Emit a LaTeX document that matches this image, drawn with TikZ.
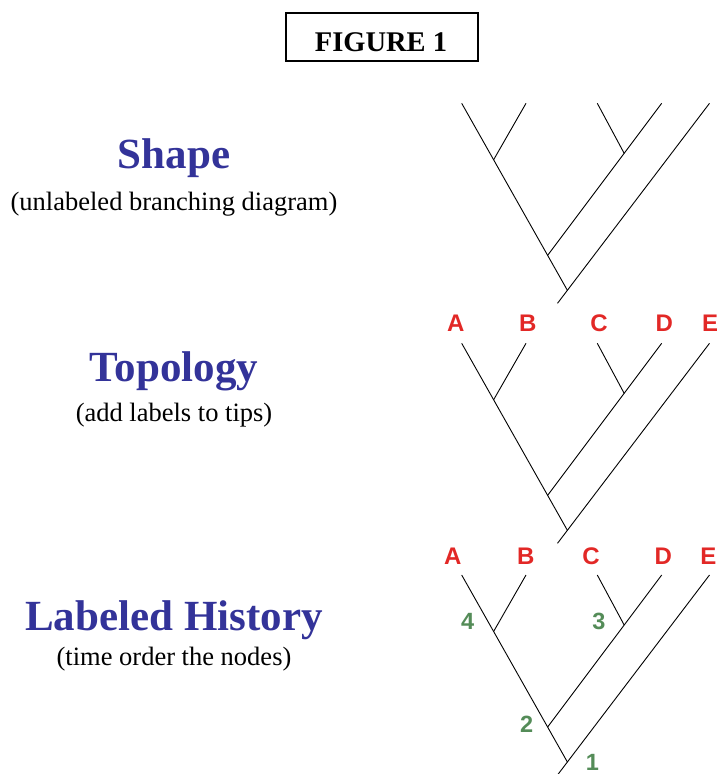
\documentclass[tikz,border=0pt]{standalone}
\usepackage{fontspec}
\setmainfont{Liberation Serif}
\newfontfamily\tipfont{Liberation Sans}
\usetikzlibrary{calc}
\definecolor{titleblue}{RGB}{51,51,153}
\definecolor{tipred}{RGB}{226,40,38}
\definecolor{nodegreen}{RGB}{84,140,88}

\begin{document}
\begin{tikzpicture}[x=1pt,y=-1pt,
  branch/.style={line width=0.9pt, black},
  heading/.style={anchor=base, inner sep=0pt, text=titleblue,
    font=\bfseries\fontsize{43}{50}\selectfont},
  caption/.style={anchor=base, inner sep=0pt, text=black,
    font=\fontsize{26.5}{32}\selectfont},
  tiplabel/.style={inner sep=0pt, text=tipred,
    font=\tipfont\bfseries\fontsize{24}{28}\selectfont},
  ordlabel/.style={inner sep=0pt, text=nodegreen,
    font=\tipfont\bfseries\fontsize{23.5}{28}\selectfont},
  titlebox/.style={draw, line width=1.5pt, inner sep=0pt,
    minimum width=192pt, minimum height=48pt},
  titletext/.style={anchor=base, inner sep=0pt,
    font=\bfseries\fontsize{28.5}{32}\selectfont}]
\useasboundingbox (0,0) rectangle (717,774);

% title in its frame
\node[titlebox] (titleframe) at (382,37) {};
\node[titletext] (title) at (381,51) {FIGURE 1};

% left-hand headings
\node[heading] (shape) at (174,168.5) {Shape};
\node[caption] (shapecap) at (174,210) {(unlabeled branching diagram)};
\node[heading] (topo) at (174,381.7) {Topology};
\node[caption] (topocap) at (174,421.7) {(add labels to tips)};
\node[heading] (hist) at (174,630) {Labeled History};
\node[caption] (histcap) at (174,665) {(time order the nodes)};

% the same five-tip tree, drawn three times
\foreach \t/\ty in {1/103.3, 2/343.3, 3/575} {
  \coordinate (A\t) at (461.7,\ty);
  \coordinate (B\t) at (526,\ty);
  \coordinate (C\t) at (597.3,\ty);
  \coordinate (D\t) at (661.7,\ty);
  \coordinate (E\t) at (709.5,\ty);
  \coordinate (S\t) at (557.5,\ty+200);
  \coordinate (R\t) at ($(E\t)!0.935!(S\t)$);
  \coordinate (AB\t) at ($(A\t)!0.302!(R\t)$);
  \coordinate (ABCD\t) at ($(A\t)!0.813!(R\t)$);
  \coordinate (CD\t) at ($(D\t)!0.329!(ABCD\t)$);
  \draw[branch] (A\t) -- (R\t);
  \draw[branch] (E\t) -- (S\t);
  \draw[branch] (B\t) -- (AB\t);
  \draw[branch] (D\t) -- (ABCD\t);
  \draw[branch] (C\t) -- (CD\t);
}

% tip labels
\node[tiplabel] (la2) at (455.7,323.7) {A};
\node[tiplabel] (lb2) at (527.7,323.7) {B};
\node[tiplabel] (lc2) at (599,323.7) {C};
\node[tiplabel] (ld2) at (664.3,323.7) {D};
\node[tiplabel] (le2) at (710,323.7) {E};
\node[tiplabel] (la3) at (452.7,556.7) {A};
\node[tiplabel] (lb3) at (525.7,556.7) {B};
\node[tiplabel] (lc3) at (591,556.7) {C};
\node[tiplabel] (ld3) at (663.3,556.7) {D};
\node[tiplabel] (le3) at (708.3,556.7) {E};

% order of the internal nodes
\node[ordlabel] (n4) at (467.7,621.7) {4};
\node[ordlabel] (n3) at (599,621.7) {3};
\node[ordlabel] (n2) at (526.7,724) {2};
\node[ordlabel] (n1) at (592.3,762) {1};
\end{tikzpicture}
\end{document}
